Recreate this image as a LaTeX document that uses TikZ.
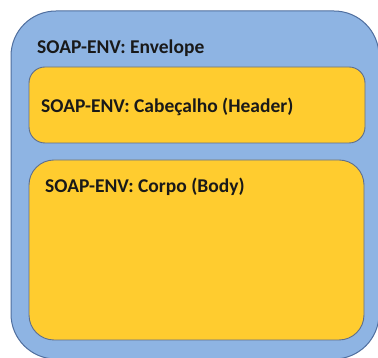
\documentclass[tikz,border=0pt]{standalone}
\usepackage{fontspec}
\setmainfont{Carlito}
\usetikzlibrary{shapes,calc}
\usetikzlibrary{positioning}
\definecolor{envblue}{HTML}{8EB4E3}
\definecolor{envline}{HTML}{4F6E9E}
\definecolor{partyellow}{HTML}{FFCC2F}
\definecolor{partline}{HTML}{5E6E8C}

\begin{document}
\begin{tikzpicture}[x=1pt, y=1pt]
	\tikzset{envelope/.style={rectangle, draw=envline, fill=envblue, line width=1pt, rounded corners=45pt, minimum width=368pt, minimum height=348pt}};
	\tikzset{part/.style={rectangle, draw=partline, fill=partyellow, line width=0.9pt, rounded corners=16pt}};
	\tikzset{label/.style={anchor=base west, inner sep=0pt, font=\fontsize{19.5}{22}\selectfont\bfseries, text=black!90}};
	\useasboundingbox (0,0) rectangle (378,358);
	% Place nodes
	\node [envelope] (env) at (195, 173) {};
	\node [part, minimum width=336pt, minimum height=76pt] (header) at (197, 253) {};
	\node [part, minimum width=335pt, minimum height=180pt, rounded corners=25pt] (body) at (196.5, 108) {};
	% Place text
	\node [label] (envtext) at (37, 304) {SOAP-ENV: Envelope};
	\node [label] (headertext) at (41, 245) {SOAP-ENV: Cabeçalho (Header)};
	\node [label] (bodytext) at (45, 165) {SOAP-ENV: Corpo (Body)};
\end{tikzpicture}
\end{document}
